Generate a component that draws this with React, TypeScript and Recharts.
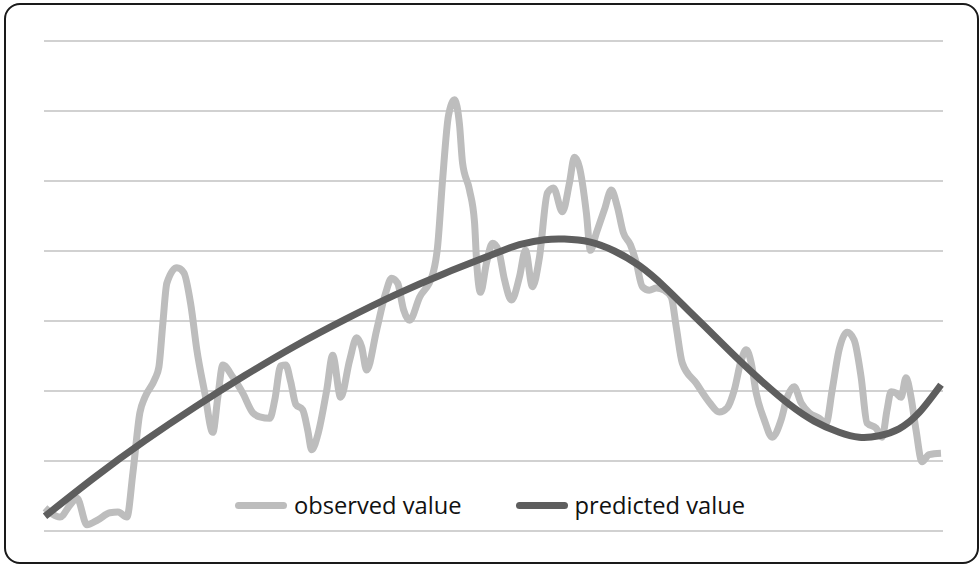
import { CartesianGrid, Line, LineChart, XAxis, YAxis } from 'recharts'

// observation times and measured values
const observedT = [
  1, 16, 26, 33, 43, 54, 66, 74, 83, 89, 96, 101, 111, 115, 119, 123, 133, 140, 147, 153,
  161, 169, 174, 179, 189, 199, 209, 216, 226, 231, 237, 242, 247, 252, 259, 264, 268, 274, 283, 289,
  297, 306, 313, 318, 323, 333, 342, 348, 354, 360, 366, 376, 389, 394, 399, 405, 411, 416, 419, 426,
  431, 433, 437, 443, 449, 455, 461, 468, 476, 482, 489, 496, 504, 510, 519, 526, 531, 536, 543, 547,
  553, 561, 568, 574, 580, 587, 593, 599, 606, 613, 621, 628, 633, 639, 653, 666, 676, 684, 691, 698,
  703, 708, 713, 721, 729, 738, 744, 751, 758, 766, 776, 783, 789, 796, 804, 811, 818, 824, 833, 839,
  844, 848, 853, 858, 863, 868, 873, 879, 886, 898,
]
const observedV = [
  0.33, 0.2, 0.37, 0.47, 0.09, 0.16, 0.26, 0.27, 0.2, 0.83, 1.69, 1.91, 2.17, 2.34, 2.97, 3.54, 3.76, 3.69, 3.23, 2.59,
  1.97, 1.41, 1.91, 2.37, 2.2, 1.97, 1.69, 1.63, 1.61, 1.87, 2.36, 2.37, 2.13, 1.81, 1.73, 1.44, 1.16, 1.37, 2.01, 2.51,
  1.91, 2.44, 2.76, 2.63, 2.3, 2.87, 3.4, 3.61, 3.54, 3.16, 3.01, 3.34, 3.66, 4.06, 5.01, 5.94, 6.16, 5.8, 5.26, 4.87,
  4.41, 3.87, 3.41, 3.83, 4.11, 4.01, 3.59, 3.3, 3.63, 4.01, 3.49, 3.91, 4.83, 4.9, 4.56, 4.97, 5.34, 5.2, 4.54, 4.01,
  4.26, 4.59, 4.87, 4.63, 4.26, 4.09, 3.83, 3.49, 3.44, 3.47, 3.44, 3.34, 2.91, 2.4, 2.11, 1.84, 1.7, 1.76, 2.01, 2.44,
  2.59, 2.4, 1.97, 1.59, 1.34, 1.59, 1.91, 2.06, 1.83, 1.69, 1.61, 1.54, 2.01, 2.59, 2.84, 2.73, 2.2, 1.54, 1.47, 1.34,
  1.73, 1.99, 1.97, 1.91, 2.19, 1.91, 1.44, 0.99, 1.09, 1.11,
]

// fitted model
const predictedT = [
  1, 51, 101, 151, 201, 251, 301, 351, 401, 451, 476, 501, 521, 546, 571, 596, 621, 646, 671, 696,
  721, 746, 771, 796, 816, 836, 856, 876, 898,
]
const predictedV = [
  0.21, 0.77, 1.29, 1.77, 2.22, 2.64, 3.02, 3.37, 3.68, 3.96, 4.09, 4.16, 4.17, 4.13, 4.0, 3.79, 3.49, 3.14, 2.79, 2.44,
  2.11, 1.81, 1.57, 1.41, 1.34, 1.36, 1.46, 1.69, 2.09,
]

const yTicks = [0, 1, 2, 3, 4, 5, 6, 7]

const observed = observedT.map((t, i) => ({ t, value: observedV[i] }))
const predicted = predictedT.map((t, i) => ({ t, value: predictedV[i] }))

const OBS_COLOR = '#bdbdbd'
const PRED_COLOR = '#5e5e5e'

const legendItems = [
  { label: 'observed value', color: OBS_COLOR },
  { label: 'predicted value', color: PRED_COLOR },
]

export default function App() {
  return (
    <div style={{ position: 'absolute', left: 0, top: 0, width: 980, height: 567, background: '#fff' }}>
      <div
        style={{
          position: 'absolute',
          left: 4,
          top: 3,
          width: 971,
          height: 557,
          border: '2px solid #1a1a1a',
          borderRadius: 16,
        }}
      />
      <LineChart width={980} height={567} margin={{ top: 41, right: 37, bottom: 36, left: 44 }}>
        <CartesianGrid vertical={false} stroke="#c2c2c2" strokeWidth={1.3} />
        <XAxis type="number" dataKey="t" domain={[0, 900]} hide />
        <YAxis type="number" domain={[0, 7]} ticks={yTicks} hide />
        <Line
          data={observed}
          dataKey="value"
          name="observed value"
          type="monotone"
          stroke={OBS_COLOR}
          strokeWidth={7}
          dot={false}
          isAnimationActive={false}
        />
        <Line
          data={predicted}
          dataKey="value"
          name="predicted value"
          type="natural"
          stroke={PRED_COLOR}
          strokeWidth={7}
          dot={false}
          isAnimationActive={false}
        />
      </LineChart>
      <div
        style={{
          position: 'absolute',
          top: 489,
          left: 0,
          width: 980,
          display: 'flex',
          justifyContent: 'center',
          alignItems: 'center',
          gap: 54,
        }}
      >
        {legendItems.map((it) => (
          <div key={it.label} style={{ display: 'flex', alignItems: 'center' }}>
            <span
              style={{
                display: 'inline-block',
                width: 52,
                height: 7,
                borderRadius: 4,
                background: it.color,
                marginRight: 7,
              }}
            />
            <span style={{ fontSize: 23.7, color: '#111', fontFamily: '"Open Sans", sans-serif' }}>{it.label}</span>
          </div>
        ))}
      </div>
    </div>
  )
}
